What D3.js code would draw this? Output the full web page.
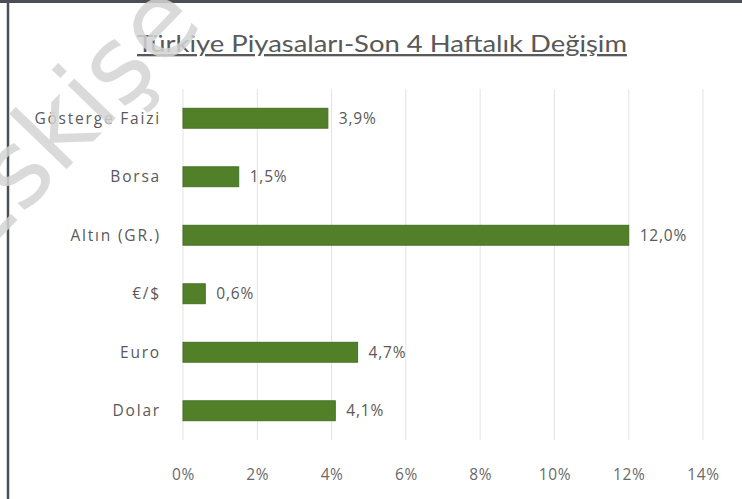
<!DOCTYPE html>
<html>
<head>
<meta charset="utf-8">
<script src="https://cdn.jsdelivr.net/npm/d3@7"></script>
<style>
  html, body { margin: 0; padding: 0; background: #fff; }
  svg { display: block; }
</style>
</head>
<body>
<svg id="chart" width="742" height="499"></svg>
<script>
// Türkiye piyasaları – son 4 haftalık değişim (%)
const categories = ["Gösterge Faizi", "Borsa", "Altın (GR.)", "€/$", "Euro", "Dolar"];
const changes = [3.9, 1.5, 12.0, 0.6, 4.7, 4.1];
const tickValues = [0, 2, 4, 6, 8, 10, 12, 14];
const title = "Türkiye Piyasaları-Son 4 Haftalık Değişim";
const watermark = "Eskişe";

const W = 742, H = 499;
const font = "'Open Sans', Lato, sans-serif";
const titleFont = "Lato, 'Open Sans', sans-serif";
const textGray = "#595959";

const svg = d3.select("#chart");

// frame lines
svg.append("rect").attr("x", 0).attr("y", 0).attr("width", W).attr("height", H).attr("fill", "#fff");
svg.append("line").attr("x1", 0).attr("x2", W).attr("y1", 1.5).attr("y2", 1.5)
  .attr("stroke", "#4a4f55").attr("stroke-width", 3);
svg.append("line").attr("x1", 8).attr("x2", 8).attr("y1", 0).attr("y2", H)
  .attr("stroke", "#4a4f55").attr("stroke-width", 2.5);

const x = d3.scaleLinear().domain([0, 14]).range([183, 703]);
const y = d3.scaleBand().domain(categories).range([89, 440]).paddingInner(0.66).paddingOuter(0.33);

// vertical gridlines
svg.append("g").selectAll("line").data(tickValues).join("line")
  .attr("x1", d => x(d)).attr("x2", d => x(d))
  .attr("y1", 89).attr("y2", 440)
  .attr("stroke", "#e3e3e3").attr("stroke-width", 1);

// bars
svg.append("g").selectAll("rect").data(categories).join("rect")
  .attr("x", x(0))
  .attr("y", d => y(d))
  .attr("width", (d, i) => x(changes[i]) - x(0))
  .attr("height", y.bandwidth())
  .attr("fill", "#518029")
  .attr("stroke", "#466f25").attr("stroke-width", 1);

// value labels
const fmt = v => v.toFixed(1).replace(".", ",") + "%";
svg.append("g").selectAll("text").data(categories).join("text")
  .attr("x", (d, i) => x(changes[i]) + 11)
  .attr("y", d => y(d) + y.bandwidth() / 2)
  .attr("dy", "0.36em")
  .attr("font-family", font).attr("font-size", 15.5)
  .attr("letter-spacing", 0.8)
  .attr("fill", textGray)
  .text((d, i) => fmt(changes[i]));

// category axis labels
svg.append("g").selectAll("text").data(categories).join("text")
  .attr("x", 161)
  .attr("y", d => y(d) + y.bandwidth() / 2)
  .attr("dy", "0.36em")
  .attr("text-anchor", "end")
  .attr("font-family", font).attr("font-size", 15.5)
  .attr("letter-spacing", 1.8)
  .attr("fill", textGray)
  .text(d => d);

// x axis tick labels
const xAxis = d3.axisBottom(x).tickValues(tickValues).tickSize(0).tickFormat(d => d + "%");
const gx = svg.append("g").attr("transform", "translate(0,466)").call(xAxis);
gx.select(".domain").remove();
gx.selectAll("text")
  .attr("font-family", font).attr("font-size", 15.5)
  .attr("letter-spacing", 0.6)
  .attr("fill", "#6a6a6a");

// title
svg.append("text")
  .attr("x", 382).attr("y", 52)
  .attr("text-anchor", "middle")
  .attr("font-family", titleFont).attr("font-size", 23)
  .attr("fill", textGray)
  .attr("text-decoration", "underline")
  .attr("textLength", 490).attr("lengthAdjust", "spacingAndGlyphs")
  .text(title);

// watermark
svg.append("text")
  .attr("transform", "translate(-24,263) rotate(-46)")
  .attr("font-family", "'DejaVu Sans', sans-serif")
  .attr("font-size", 105)
  .attr("fill", "#d4d4d4")
  .attr("fill-opacity", 0.85)
  .text(watermark);
</script>
</body>
</html>
